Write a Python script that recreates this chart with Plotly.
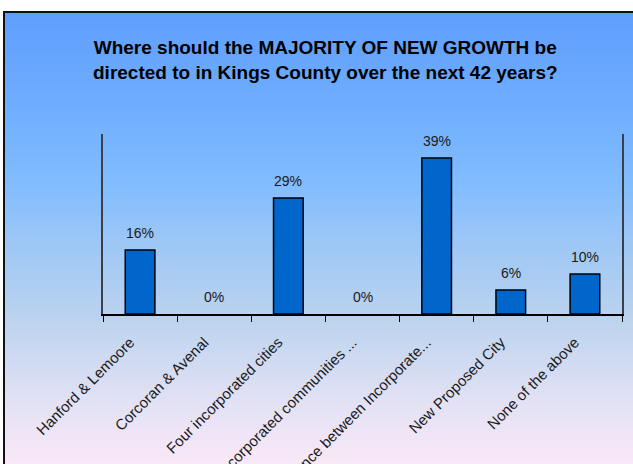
import plotly.graph_objects as go

categories = [
    "Hanford & Lemoore",
    "Corcoran & Avenal",
    "Four incorporated cities",
    "Unincorporated communities ...",
    "Balance between Incorporate...",
    "New Proposed City",
    "None of the above",
]
values = [16, 0, 29, 0, 39, 6, 10]
value_labels = ["16%", "0%", "29%", "0%", "39%", "6%", "10%"]

title_lines = [
    "Where should the MAJORITY OF NEW GROWTH be",
    "directed to in Kings County over the next 42 years?",
]

W, H = 633, 464
ML, MR, MT, MB = 103, 11, 134, 150
PW, PH = W - ML - MR, H - MT - MB
FONT = "Liberation Sans, Arial, sans-serif"


def px(x):
    return (x - ML) / PW


def py(y):
    return 1 - (y - MT) / PH


# background gradient stops (canvas y, rgb)
stops = [
    (12, (95, 158, 253)),
    (100, (110, 172, 255)),
    (180, (128, 188, 255)),
    (250, (160, 200, 245)),
    (320, (188, 211, 238)),
    (400, (226, 225, 245)),
    (470, (252, 233, 248)),
]


def color_at(y):
    for (y0, c0), (y1, c1) in zip(stops[:-1], stops[1:]):
        if y0 <= y <= y1:
            t = (y - y0) / (y1 - y0)
            return "rgb(%d,%d,%d)" % tuple(round(a + (b - a) * t) for a, b in zip(c0, c1))
    return "rgb(%d,%d,%d)" % stops[-1][1]


shapes = []
step = 4
y = 12
while y < H + 4:
    shapes.append(dict(
        type="rect", xref="paper", yref="paper", layer="below",
        x0=px(3), x1=px(W + 10), y0=py(y + step + 0.6), y1=py(y),
        fillcolor=color_at(y + step / 2), line=dict(width=0),
    ))
    y += step
shapes.append(dict(
    type="rect", xref="paper", yref="paper", layer="below",
    x0=px(4), x1=px(W + 20), y0=py(H + 20), y1=py(12),
    fillcolor="rgba(0,0,0,0)", line=dict(color="#111111", width=2),
))

fig = go.Figure()
fig.add_trace(go.Bar(
    x=categories, y=values, width=0.4,
    marker=dict(color="#0066CC",
                line=dict(color="#000000", width=[1.5 if v > 0 else 0 for v in values])),
    hoverinfo="skip",
))

annotations = []
for c, v, lab in zip(categories, values, value_labels):
    annotations.append(dict(
        x=c, y=v, xref="x", yref="y", text=lab, showarrow=False,
        yanchor="bottom", yshift=7,
        font=dict(family=FONT, size=14, color="#1a1a1a"),
    ))
annotations.append(dict(
    x=px(325), y=py(60), xref="paper", yref="paper",
    text="<b>" + "<br>".join(title_lines) + "</b>", showarrow=False,
    xanchor="center", yanchor="middle",
    font=dict(family=FONT, size=19, color="#000000"),
))

fig.update_layout(
    width=W, height=H,
    margin=dict(l=ML, r=MR, t=MT, b=MB, autoexpand=False),
    paper_bgcolor="white",
    plot_bgcolor="rgba(0,0,0,0)",
    showlegend=False,
    shapes=shapes,
    annotations=annotations,
    bargap=0.6,
)
fig.update_xaxes(
    range=[-0.5, 6.5], showline=True, linecolor="#000000", linewidth=1.5,
    ticks="outside", ticklen=6, tickcolor="#000000", tickwidth=1,
    tickson="boundaries", tickangle=-45, showgrid=False,
    ticklabelshift=-10, ticklabelstandoff=12,
    tickfont=dict(family=FONT, size=15, color="#1a1a1a"),
)
fig.update_yaxes(
    range=[0, 45], showline=True, linecolor="#3a3f4a", linewidth=1.5, mirror=True,
    showticklabels=False, ticks="", showgrid=False, zeroline=False,
)

fig.write_html("out.html", config={"displayModeBar": False},
               post_script="document.body.style.margin='0';")
